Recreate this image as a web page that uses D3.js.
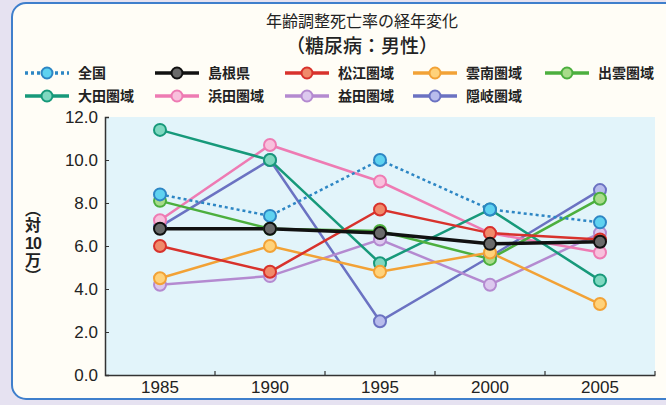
<!DOCTYPE html>
<html><head><meta charset="utf-8">
<script src="https://cdn.jsdelivr.net/npm/d3@7"></script>
<style>
html,body{margin:0;padding:0;background:#e6e2f1;}
svg{display:block;font-family:"Noto Sans CJK JP","Noto Sans",sans-serif;}
.vt{writing-mode:vertical-rl;}
</style></head>
<body><svg id="c" width="666" height="405"></svg>
<script>
const years = ["1985","1990","1995","2000","2005"];
const seriesNames = ["全国","島根県","松江圏域","雲南圏域","出雲圏域","大田圏域","浜田圏域","益田圏域","隠岐圏域"];
const zenkoku  = [8.4, 7.4, 10.0, 7.7, 7.1];
const shimane  = [6.8, 6.8, 6.6, 6.1, 6.2];
const matsue   = [6.0, 4.8, 7.7, 6.6, 6.3];
const unnan    = [4.5, 6.0, 4.8, 5.7, 3.3];
const izumo    = [8.1, 6.8, 6.7, 5.4, 8.2];
const oda      = [11.4, 10.0, 5.2, 7.7, 4.4];
const hamada   = [7.2, 10.7, 9.0, 6.6, 5.7];
const masuda   = [4.2, 4.6, 6.3, 4.2, 6.6];
const oki      = [6.9, 10.0, 2.5, 5.5, 8.6];
const yTicks = [0, 2, 4, 6, 8, 10, 12];
const colors = ["#2d86c4","#111111","#d8322c","#f2a236","#4caf3e","#17997a","#ee7bb3","#b48ad0","#6b72c2"];
const fills  = ["#5fd2f0","#6a6a6a","#f08a6a","#ffd27a","#a8dc8a","#7fd8c0","#f8c0dc","#dcc8ee","#b8bcec"];
const values = [zenkoku, shimane, matsue, unnan, izumo, oda, hamada, masuda, oki];

const svg = d3.select("#c");
svg.append("rect").attr("x",12).attr("y",3).attr("width",700).attr("height",396)
  .attr("rx",14).attr("fill","#fffdf6").attr("stroke","#3f7fcc").attr("stroke-width",2);

const x = d3.scaleBand().domain(years).range([105,655]);
const y = d3.scaleLinear().domain([0,12]).range([375,117]);

svg.append("rect").attr("x",105).attr("y",117).attr("width",550).attr("height",258).attr("fill","#e2f4fa");

svg.append("text").attr("x",362).attr("y",27).attr("text-anchor","middle")
  .attr("font-size",16).attr("fill","#222").text("年齢調整死亡率の経年変化");
svg.append("text").attr("x",362).attr("y",53).attr("text-anchor","middle")
  .attr("font-size",19).attr("font-weight","500").attr("fill","#222").text("（糖尿病：男性）");

const numFont = "Liberation Sans, Arial, sans-serif";
const yAxis = d3.axisLeft(y).tickValues(yTicks).tickFormat(d3.format(".1f")).tickSize(-4).tickPadding(7);
const ga = svg.append("g").attr("transform","translate(105,0)").call(yAxis);
ga.selectAll("text").attr("font-size",17).attr("font-family",numFont).attr("fill","#222");
ga.select(".domain").attr("stroke","#333").attr("stroke-width",1.5);
ga.selectAll(".tick line").attr("stroke","#333");

const xAxis = d3.axisBottom(x).tickSize(0).tickPadding(6);
const gx = svg.append("g").attr("transform","translate(0,375)").call(xAxis);
gx.selectAll("text").attr("font-size",17).attr("font-family",numFont).attr("fill","#222");
gx.select(".domain").attr("stroke","#333").attr("stroke-width",1.5);
gx.selectAll(".bnd").data(years).enter().append("line")
  .attr("x1",d=>x(d)+x.bandwidth()).attr("x2",d=>x(d)+x.bandwidth())
  .attr("y1",0).attr("y2",-4).attr("stroke","#333").attr("stroke-width",1.2);

// vertical y-axis label （対10万）
const lbl = svg.append("g").attr("fill","#222").attr("font-weight","bold").attr("font-size",16);
lbl.append("text").attr("class","vt").attr("x",33).attr("y",201).text("（対");
lbl.append("text").attr("x",33).attr("y",249).attr("text-anchor","middle")
  .attr("font-family",numFont).attr("letter-spacing",-1).text("10");
lbl.append("text").attr("class","vt").attr("x",33).attr("y",252).text("万）");

const cx = d => x(d) + x.bandwidth()/2;
const line = d3.line().x((d,i)=>cx(years[i])).y(d=>y(d));
const order = [8,7,6,5,4,3,2,0,1];
order.forEach(k=>{
  svg.append("path").datum(values[k]).attr("d",line).attr("fill","none")
    .attr("stroke",colors[k]).attr("stroke-width", k===1?3.5:2.5)
    .attr("stroke-dasharray", k===0?"3,3":null);
});
order.forEach(k=>{
  svg.selectAll(null).data(values[k]).enter().append("circle")
    .attr("cx",(d,i)=>cx(years[i])).attr("cy",d=>y(d)).attr("r",6)
    .attr("fill",fills[k]).attr("stroke",colors[k]).attr("stroke-width",2);
});

const lx = [25,155,285,413,545];
seriesNames.forEach((n,k)=>{
  const row = k<5?0:1, col = k<5?k:k-5;
  const gx0 = lx[col], gy = row===0?73:96;
  const g = svg.append("g");
  g.append("line").attr("x1",gx0).attr("x2",gx0+44).attr("y1",gy).attr("y2",gy)
    .attr("stroke",colors[k]).attr("stroke-width",3.5).attr("stroke-dasharray",k===0?"3,3":null);
  g.append("circle").attr("cx",gx0+22).attr("cy",gy).attr("r",5.5).attr("fill",fills[k]).attr("stroke",colors[k]).attr("stroke-width",2);
  g.append("text").attr("x",gx0+53).attr("y",gy+5).attr("font-size",14).attr("font-weight","bold").attr("fill","#222").text(n);
});
</script></body></html>
